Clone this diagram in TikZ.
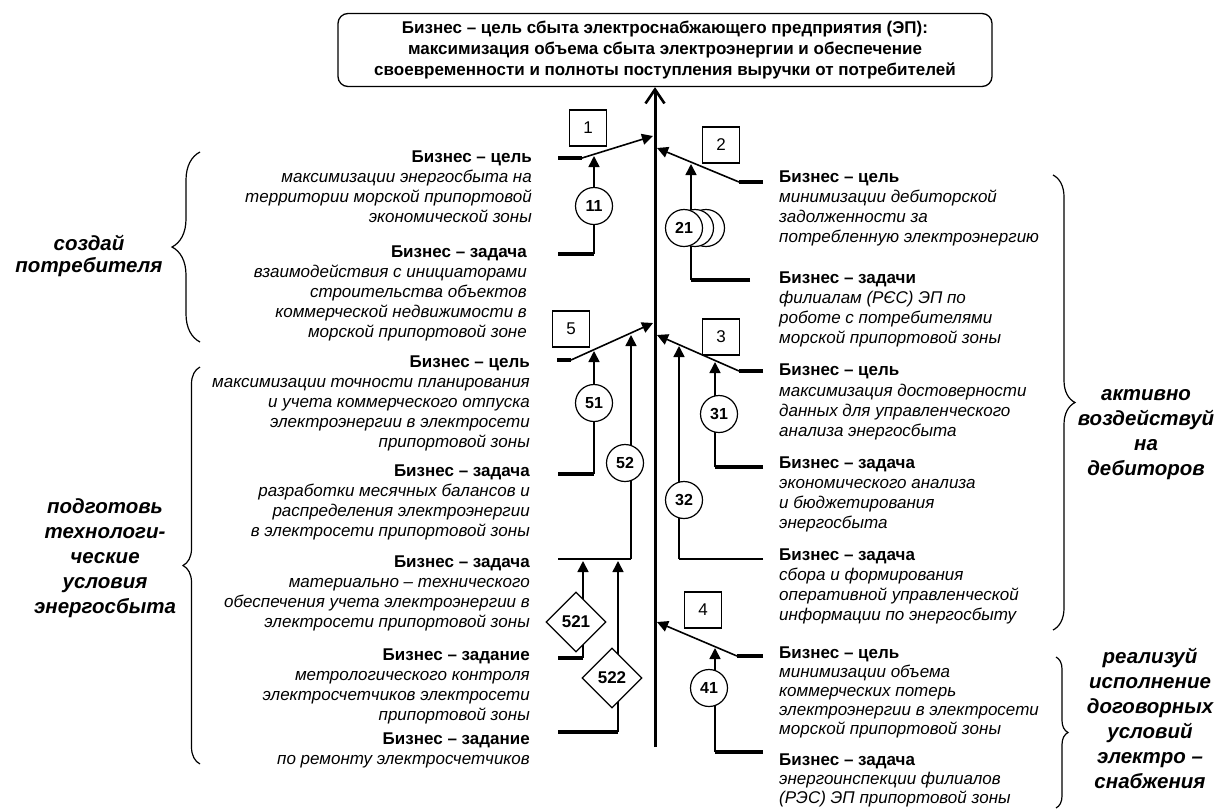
\documentclass[tikz,border=0pt]{standalone}
\usepackage{fontspec}
\setmainfont{Liberation Sans}
\usetikzlibrary{arrows.meta,shapes.geometric,decorations.pathreplacing}

\begin{document}
\begin{tikzpicture}[
    x=1pt, y=-1pt,
    mainaxis/.style={line width=3pt, -{Straight Barb[length=14pt,width=19pt,line width=2.6pt]}},
    arrowlink/.style={line width=1.6pt, -{Triangle[length=11pt,width=11pt]}},
    linkline/.style={line width=1.6pt},
    stub/.style={line width=3.4pt},
    numbox/.style={draw, line width=1.2pt, minimum width=37pt, minimum height=36pt, inner sep=0pt, font=\fontsize{17}{17}\selectfont},
    numcircle/.style={circle, draw, fill=white, line width=1.2pt, minimum size=37pt, inner sep=0pt, font=\fontsize{16}{16}\selectfont\bfseries},
    numdiamond/.style={diamond, aspect=1, draw, fill=white, line width=1.2pt, minimum size=60pt, inner sep=0pt, font=\fontsize{17}{17}\selectfont\bfseries},
    lefttext/.style={anchor=north east, align=right, inner sep=0pt, font=\fontsize{17}{20}\selectfont\itshape},
    righttext/.style={anchor=north west, align=left, inner sep=0pt, font=\fontsize{17}{20}\selectfont\itshape},
    grouptext/.style={align=center, inner sep=0pt, font=\fontsize{20.5}{25}\selectfont\bfseries\itshape},
    curly/.style={decorate, decoration={brace, amplitude=#1}, line width=1.2pt}
]
\useasboundingbox (0,0) rectangle (1222,809);

% Главная цель
\node[draw, rounded corners=10pt, line width=1.3pt, minimum width=654pt, minimum height=73pt,
      align=center, font=\fontsize{17}{21}\selectfont\bfseries] (goal) at (665,50)
  {Бизнес – цель сбыта электроснабжающего предприятия (ЭП):\\
   максимизация объема сбыта электроэнергии и обеспечение\\
   своевременности и полноты поступления выручки от потребителей};

% Ось
\coordinate (base) at (655,747);
\draw[mainaxis] (base) -- (base |- goal.south);

% Цель 1 и задача 11
\coordinate (c1a) at (558,158);
\coordinate (c1b) at (582,158);
\coordinate (c1z) at (653,136);
\draw[stub] (c1a) -- (c1b);
\draw[arrowlink] (c1b) -- (c1z);
\node[numbox] (n1) at (588,128) {1};
\coordinate (z11a) at (558,254);
\coordinate (z11) at (594,254);
\coordinate (e11) at (594,156);
\draw[stub] (z11a) -- (z11);
\draw[arrowlink] (z11) -- (e11);
\node[numcircle] (k11) at (594,206) {11};

% Цель 2 и задачи 21
\coordinate (c2a) at (763,182);
\coordinate (c2b) at (739,182);
\coordinate (c2z) at (657,148);
\draw[stub] (c2a) -- (c2b);
\draw[arrowlink] (c2b) -- (c2z);
\node[numbox] (n2) at (721,145) {2};
\coordinate (z21a) at (750,280);
\coordinate (z21) at (691,280);
\coordinate (e21) at (691,164);
\draw[stub] (z21a) -- (z21);
\draw[arrowlink] (z21) -- (e21);
\node[numcircle] (k21c) at (706,228) {};
\node[numcircle] (k21b) at (695,228) {};
\node[numcircle] (k21) at (684,228) {21};

% Цель 5 и задачи 51, 52
\coordinate (c5a) at (557,360);
\coordinate (c5b) at (571,360);
\coordinate (c5z) at (653,323);
\draw[stub] (c5a) -- (c5b);
\draw[arrowlink] (c5b) -- (c5z);
\node[numbox] (n5) at (571,329) {5};
\coordinate (z51a) at (558,474);
\coordinate (z51) at (594,474);
\coordinate (e51) at (594,351);
\draw[stub] (z51a) -- (z51);
\draw[arrowlink] (z51) -- (e51);
\node[numcircle] (k51) at (594,403) {51};
\coordinate (z52a) at (558,559);
\coordinate (z52) at (631,559);
\coordinate (e52) at (631,335);
\draw[linkline] (z52a) -- (z52);
\draw[arrowlink] (z52) -- (e52);
\node[numcircle] (k52) at (625,463) {52};

% Задания 521, 522
\coordinate (z521a) at (558,658);
\coordinate (z521) at (583,658);
\coordinate (e521) at (583,561);
\draw[stub] (z521a) -- (z521);
\draw[arrowlink] (z521) -- (e521);
\node[numdiamond] (d521) at (576,622) {521};
\coordinate (z522a) at (558,732);
\coordinate (z522) at (618,732);
\coordinate (e522) at (618,561);
\draw[stub] (z522a) -- (z522);
\draw[arrowlink] (z522) -- (e522);
\node[numdiamond] (d522) at (612,678) {522};

% Цель 3 и задачи 31, 32
\coordinate (c3a) at (763,371);
\coordinate (c3b) at (739,371);
\coordinate (c3z) at (657,335);
\draw[stub] (c3a) -- (c3b);
\draw[arrowlink] (c3b) -- (c3z);
\node[numbox] (n3) at (721,337) {3};
\coordinate (z31a) at (763,467);
\coordinate (z31) at (715,467);
\coordinate (e31) at (715,362);
\draw[stub] (z31a) -- (z31);
\draw[arrowlink] (z31) -- (e31);
\node[numcircle] (k31) at (719,414) {31};
\coordinate (z32a) at (763,559);
\coordinate (z32) at (679,559);
\coordinate (e32) at (679,346);
\draw[linkline] (z32a) -- (z32);
\draw[arrowlink] (z32) -- (e32);
\node[numcircle] (k32) at (684,500) {32};

% Цель 4 и задача 41
\coordinate (c4a) at (763,656);
\coordinate (c4b) at (737,656);
\coordinate (c4z) at (657,622);
\draw[stub] (c4a) -- (c4b);
\draw[arrowlink] (c4b) -- (c4z);
\node[numbox] (n4) at (703,610) {4};
\coordinate (z41a) at (763,752);
\coordinate (z41) at (715,752);
\coordinate (e41) at (715,648);
\draw[stub] (z41a) -- (z41);
\draw[arrowlink] (z41) -- (e41);
\node[numcircle] (k41) at (709,688) {41};

% Тексты слева
\node[lefttext] (t1) at (532,151) {{\upshape\bfseries Бизнес – цель}\\максимизации энергосбыта на\\территории морской припортовой\\экономической зоны};
\node[lefttext] (t11) at (527,246) {{\upshape\bfseries Бизнес – задача}\\взаимодействия с инициаторами\\строительства объектов\\коммерческой недвижимости в\\морской припортовой зоне};
\node[lefttext] (t5) at (530,356) {{\upshape\bfseries Бизнес – цель}\\максимизации точности планирования\\и учета коммерческого отпуска\\электроэнергии в электросети\\припортовой зоны};
\node[lefttext] (t51) at (530,465) {{\upshape\bfseries Бизнес – задача}\\разработки месячных балансов и\\распределения электроэнергии\\в электросети припортовой зоны};
\node[lefttext] (t52) at (530,556) {{\upshape\bfseries Бизнес – задача}\\материально – технического\\обеспечения учета электроэнергии в\\электросети припортовой зоны};
\node[lefttext] (t521) at (530,649) {{\upshape\bfseries Бизнес – задание}\\метрологического контроля\\электросчетчиков электросети\\припортовой зоны};
\node[lefttext] (t522) at (530,733) {{\upshape\bfseries Бизнес – задание}\\по ремонту электросчетчиков};

% Тексты справа
\node[righttext] (t2) at (779,171) {{\upshape\bfseries Бизнес – цель}\\минимизации дебиторской\\задолженности за\\потребленную электроэнергию};
\node[righttext] (t21) at (779,272) {{\upshape\bfseries Бизнес – задачи}\\филиалам (РЄС) ЭП по\\роботе с потребителями\\морской припортовой зоны};
\node[righttext] (t3) at (779,364) {{\upshape\bfseries Бизнес – цель}\\[1pt]максимизация достоверности\\данных для управленческого\\анализа энергосбыта};
\node[righttext] (t31) at (779,457) {{\upshape\bfseries Бизнес – задача}\\экономического анализа\\и бюджетирования\\энергосбыта};
\node[righttext] (t32) at (779,549) {{\upshape\bfseries Бизнес – задача}\\сбора и формирования\\оперативной управленческой\\информации по энергосбыту};
\node[righttext] (t4) at (779,647) {{\upshape\bfseries Бизнес – цель}\\[-1pt]минимизации объема\\[-1pt]коммерческих потерь\\[-1pt]электроэнергии в электросети\\[-1pt]морской припортовой зоны};
\node[righttext] (t41) at (779,754) {{\upshape\bfseries Бизнес – задача}\\[-1pt]энергоинспекции филиалов\\[-1pt](РЭС) ЭП припортовой зоны};

% Фигурные скобки
\draw[curly=28pt] (200,342) -- (200,152);
\draw[curly=17pt] (200,764) -- (200,367);
\draw[curly=22pt] (1053,175) -- (1053,630);
\draw[curly=12pt] (1056,657) -- (1056,808);

% Подписи групп
\node[grouptext] (g1) at (89,256) {создай\\[-3pt]потребителя};
\node[grouptext] (g2) at (105,558) {подготовь\\технологи-\\ческие\\условия\\энергосбыта};
\node[grouptext] (g3) at (1146,435) {активно\\воздействуй\\на\\дебиторов};
\node[grouptext] (g4) at (1150,718) {реализуй\\исполнение\\договорных\\условий\\электро –\\снабжения};

\end{tikzpicture}
\end{document}
